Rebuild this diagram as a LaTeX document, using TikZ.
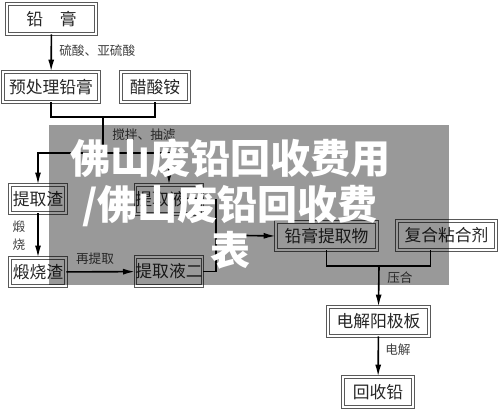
\documentclass[tikz,border=0pt]{standalone}
\usepackage{fontspec}
\setmainfont{Noto Sans CJK SC}
\usepackage{tikz}
\usetikzlibrary{arrows.meta}

\tikzset{
  stage/.style n args={2}{draw=black!65, double=white, double distance=1.2pt, line width=0.6pt,
    inner sep=0pt, minimum width=#1*0.75pt, minimum height=#2*0.75pt,
    text=black!85, font=\fontsize{12.6}{12.6}\selectfont},
  flow/.style={line width=1.2pt, black},
  go/.style={flow, -{Latex[length=9pt,width=4.5pt]}},
  lbl/.style={text=black!75, font=\fontsize{9.5}{10}\selectfont, inner sep=0pt}
}

\begin{document}
\begin{tikzpicture}[x=0.75pt, y=-0.75pt]
\useasboundingbox (0,0) rectangle (500,411);

% boxes
\node[stage={89}{30}] (qg) at (51.5,19) {铅\quad 膏};
\node[stage={96}{30}] (pre) at (51,87) {预处理铅膏};
\node[stage={68}{30}] (cs) at (155,87) {醋酸铵};
\node[stage={56}{28}] (tqz) at (38,199) {提取渣};
\node[stage={66}{29}] (ext1) at (169,199.5) {提取液一};
\node[stage={56}{28}] (dsz) at (38,272) {煅烧渣};
\node[stage={66}{29}] (ext2) at (169,271.5) {提取液二};
\node[stage={101}{28}] (lgt) at (326.5,236) {铅膏提取物};
\node[stage={99}{29}] (fh) at (446.5,235.5) {复合粘合剂};
\node[stage={101}{29}] (jyb) at (378.5,321.5) {电解阳极板};
\node[stage={70}{30}] (hsq) at (378,392) {回收铅};

% junctions
\coordinate (j1) at (103,117);
\coordinate (j2) at (103,153);
\coordinate (jx) at (216,235);
\coordinate (j3) at (379,266);

% connectors
\draw[go] (qg) -- (pre);
\node[lbl, anchor=west] (l1) at (59,51) {硫酸、亚硫酸};

\draw[flow] (pre.south) |- (j1) -| (cs.south);
\draw[flow] (j1) -- (j2);
\draw[go] (j2) -| (tqz.north);
\draw[go] (j2) -| (ext1.north);
\node[lbl, anchor=west] (l2) at (112,135) {搅拌、抽滤};

\draw[go] (tqz) -- (dsz);
\node[lbl] (l3) at (19,227) {煅};
\node[lbl] (l4) at (19,245) {烧};

\draw[go] (dsz) -- (ext2);
\node[lbl] (l5) at (95,259) {再提取};

\draw[flow] (ext1.east) -| (jx);
\draw[flow] (ext2.east) -| (jx);
\draw[go] (jx) -- (lgt.west);

\draw[flow] (lgt.south) |- (j3) -| ([xshift=-12pt]fh.south);
\draw[go] (j3) -- (jyb.north);
\node[lbl, anchor=west] (l6) at (387,278) {压合};

\draw[go] (jyb) -- (hsq);
\node[lbl, anchor=west] (l7) at (385,350) {电解};

% overlay
\fill[black, opacity=0.4] (49,125) rectangle (449,285);
\node[text=white, align=center, font=\fontsize{30}{34.5}\selectfont\bfseries] (wm) at (230,204)
  {佛山废铅回收费用\\/佛山废铅回收费\\表};

\end{tikzpicture}
\end{document}
